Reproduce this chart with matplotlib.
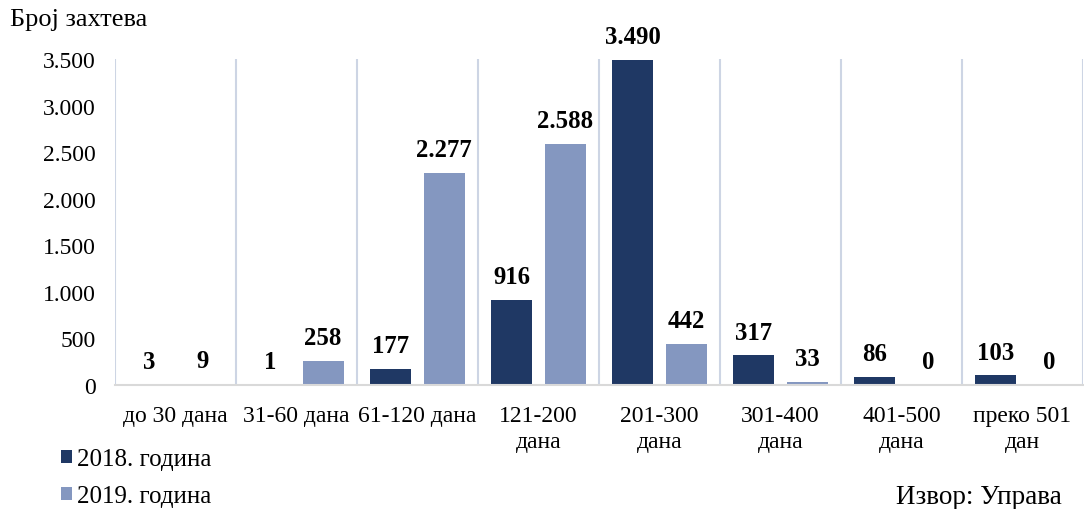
import matplotlib
matplotlib.use("Agg")
import matplotlib.pyplot as plt
import numpy as np
from matplotlib.ticker import FuncFormatter

categories = ["до 30 дана", "31-60 дана", "61-120 дана", "121-200\nдана", "201-300\nдана",
              "301-400\nдана", "401-500\nдана", "преко 501\nдан"]
values_2018 = [3, 1, 177, 916, 3490, 317, 86, 103]
values_2019 = [9, 258, 2277, 2588, 442, 33, 0, 0]
series_names = ["2018. година", "2019. година"]
y_ticks = [0, 500, 1000, 1500, 2000, 2500, 3000, 3500]

C18 = "#1F3864"
C19 = "#8497C0"
FS = 17

plt.rcParams['font.family'] = ['Liberation Serif', 'DejaVu Serif']

W, H = 1084, 510
fig = plt.figure(figsize=(W / 100, H / 100), dpi=100)
ax = fig.add_axes([115 / W, (H - 386) / H, (1083 - 115) / W, (386 - 60) / H])

x = np.arange(len(categories))
bw = 0.34
off = 0.22
b1 = ax.bar(x - off, values_2018, bw, color=C18, label=series_names[0], zorder=3)
b2 = ax.bar(x + off, values_2019, bw, color=C19, label=series_names[1], zorder=3)

def fmt(v):
    return f"{int(v):,}".replace(",", ".")

for bars, vals in ((b1, values_2018), (b2, values_2019)):
    for r, v in zip(bars, vals):
        ax.annotate(fmt(v), (r.get_x() + r.get_width() / 2, v), xytext=(0, 12),
                    textcoords="offset points", ha="center", va="baseline",
                    fontsize=17.8, fontweight="bold", annotation_clip=False, clip_on=False)

ax.set_xlim(-0.5, len(categories) - 0.5)
ax.set_ylim(0, 3500)
ax.set_yticks(y_ticks)
ax.yaxis.set_major_formatter(FuncFormatter(lambda v, p: fmt(v)))
ax.set_xticks(x)
ax.set_xticklabels(categories, linespacing=1.3)
ax.tick_params(axis="both", length=0, labelsize=FS)
ax.tick_params(axis="y", pad=14)
ax.tick_params(axis="x", pad=14.5)

for s in ("top", "right", "left"):
    ax.spines[s].set_visible(False)
ax.spines["bottom"].set_color("#D9D9D9")
ax.spines["bottom"].set_linewidth(1.5)
ax.spines["bottom"].set_zorder(4)

for b in np.arange(-0.5, len(categories), 1.0):
    ax.axvline(b, color="#CDD5E4", lw=1.5, zorder=1)

fig.text(10 / W, 1 - 20 / H, "Број захтева", fontsize=19, ha="left", va="center")
fig.text(1062 / W, 1 - 498 / H, "Извор: Управа", fontsize=19.5, ha="right", va="center")

leg = fig.legend(handles=[b1, b2], labels=series_names, loc="lower left",
                 bbox_to_anchor=(38 / W, -21 / H), frameon=False, fontsize=18,
                 handlelength=0.45, handleheight=0.45, handletextpad=0.2, labelspacing=0.6)

fig.savefig("out.png", dpi=100)
